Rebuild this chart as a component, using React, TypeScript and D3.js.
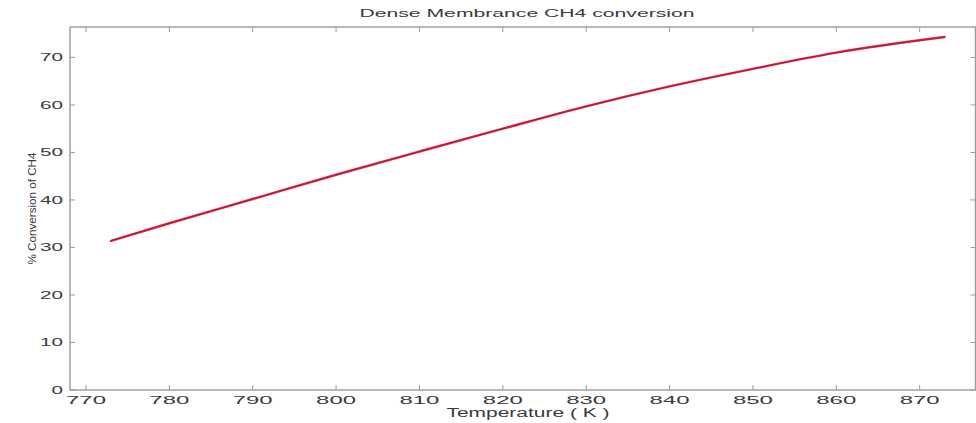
import React from "react";
import * as d3 from "d3";

// CH4 conversion across reactor temperature (dense membrane reactor)
const temperatureK = [773, 780, 790, 800, 810, 820, 830, 840, 850, 860, 870, 873];
const conversionPct = [31.4, 35.1, 40.2, 45.3, 50.2, 55.0, 59.7, 63.9, 67.6, 71.0, 73.6, 74.3];

const xTickValues = [770, 780, 790, 800, 810, 820, 830, 840, 850, 860, 870];
const yTickValues = [0, 10, 20, 30, 40, 50, 60, 70];

const chartTitle = "Dense Membrance CH4 conversion";
const xAxisTitle = "Temperature ( K )";
const yAxisTitle = "% Conversion of CH4";

const W = 976;
const H = 423;
const left = 70;
const right = 975.5;
const top = 27;
const bottom = 390;

const axisColor = "#9a9a9a";
const textColor = "#3a3a3a";
const font = "'Liberation Sans', Arial, sans-serif";

export default function App() {
  const x = d3.scaleLinear().domain([768.08, 876.7]).range([left, right]);
  const y = d3.scaleLinear().domain([0, 76.4]).range([bottom, top]);

  const data = temperatureK.map((t, i) => [t, conversionPct[i]] as [number, number]);
  const line = d3
    .line<[number, number]>()
    .x((d) => x(d[0]))
    .y((d) => y(d[1]))
    .curve(d3.curveMonotoneX);
  const path = line(data) || "";

  const tick = 5;

  return (
    <svg
      width={W}
      height={H}
      viewBox={`0 0 ${W} ${H}`}
      style={{ position: "absolute", left: 0, top: 0, background: "#fff" }}
    >
      {/* title */}
      <text
        x={527}
        y={17}
        textAnchor="middle"
        fontFamily={font}
        fontSize={10}
        fill={textColor}
        textLength={335}
        lengthAdjust="spacingAndGlyphs"
      >
        {chartTitle}
      </text>

      {/* axes box */}
      <rect
        x={left}
        y={top}
        width={right - left}
        height={bottom - top}
        fill="none"
        stroke={axisColor}
        strokeWidth={1.4}
      />

      {/* x ticks, bottom and top */}
      {xTickValues.map((v) => (
        <g key={`xt${v}`}>
          <line x1={x(v)} x2={x(v)} y1={bottom} y2={bottom - tick} stroke={axisColor} strokeWidth={1} />
          <line x1={x(v)} x2={x(v)} y1={top} y2={top + tick} stroke={axisColor} strokeWidth={1} />
          <text
            x={x(v)}
            y={404}
            textAnchor="middle"
            fontFamily={font}
            fontSize={11}
            fill={textColor}
            textLength={40}
            lengthAdjust="spacingAndGlyphs"
          >
            {v}
          </text>
        </g>
      ))}

      {/* y ticks, left and right */}
      {yTickValues.map((v) => {
        const label = String(v);
        return (
          <g key={`yt${v}`}>
            <line x1={left} x2={left + tick} y1={y(v)} y2={y(v)} stroke={axisColor} strokeWidth={1} />
            <line x1={right} x2={right - tick} y1={y(v)} y2={y(v)} stroke={axisColor} strokeWidth={1} />
            <text
              x={63}
              y={y(v) + 4}
              textAnchor="end"
              fontFamily={font}
              fontSize={11}
              fill={textColor}
              textLength={label.length * 11.5}
              lengthAdjust="spacingAndGlyphs"
            >
              {label}
            </text>
          </g>
        );
      })}

      {/* axis titles */}
      <text
        x={528}
        y={417}
        textAnchor="middle"
        fontFamily={font}
        fontSize={12}
        fill={textColor}
        textLength={163}
        lengthAdjust="spacingAndGlyphs"
      >
        {xAxisTitle}
      </text>
      <text
        transform={`translate(36, ${(top + bottom) / 2 + 0}) rotate(-90)`}
        textAnchor="middle"
        fontFamily={font}
        fontSize={10}
        fill={textColor}
        textLength={112}
        lengthAdjust="spacingAndGlyphs"
      >
        {yAxisTitle}
      </text>

      {/* conversion curve */}
      <path d={path} fill="none" stroke="#e8243f" strokeWidth={2.4} strokeLinecap="round" />
      <path d={path} fill="none" stroke="#7a1f33" strokeWidth={0.9} strokeOpacity={0.7} />
    </svg>
  );
}
